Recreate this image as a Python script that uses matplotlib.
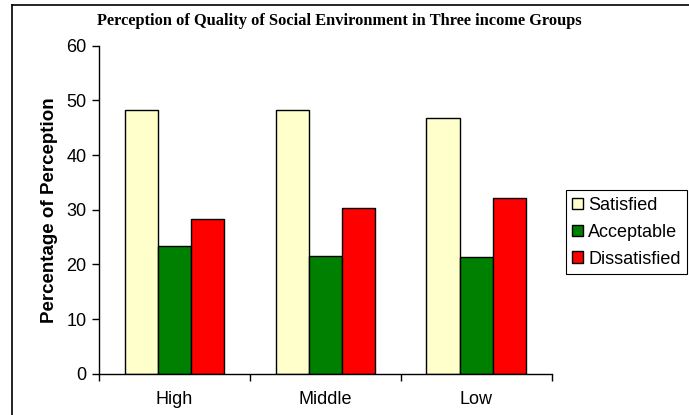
import numpy as np
import matplotlib.pyplot as plt
from matplotlib.lines import Line2D

# data
groups = ["High", "Middle", "Low"]
series = ["Satisfied", "Acceptable", "Dissatisfied"]
satisfied = [48.3, 48.3, 46.7]
acceptable = [23.4, 21.6, 21.3]
dissatisfied = [28.4, 30.3, 32.2]
colors = ["#FFFFCC", "#008000", "#FF0000"]

plt.rcParams["font.family"] = ["Liberation Sans", "DejaVu Sans"]

fig = plt.figure(figsize=(6.89, 4.15), dpi=100)
ax = fig.add_axes([0.1437, 0.099, 0.657, 0.791])

x = np.arange(len(groups))
w = 0.22
for i, (name, vals) in enumerate(zip(series, [satisfied, acceptable, dissatisfied])):
    ax.bar(x + (i - 1) * w, vals, width=w, color=colors[i], edgecolor="black",
           linewidth=1.0, label=name)

ax.set_xlim(-0.5, 2.5)
ax.set_ylim(0, 60)
ax.set_yticks(range(0, 61, 10))
ax.set_xticks(x)
ax.set_xticklabels(groups, fontsize=13)
ax.set_xticks(np.arange(-0.5, 2.6, 1), minor=True)
ax.tick_params(axis="x", which="major", length=0, pad=12)
ax.tick_params(axis="x", which="minor", length=5, width=1, direction="out")
ax.tick_params(axis="y", length=5, width=1, labelsize=13, pad=4)
for s in ["top", "right"]:
    ax.spines[s].set_visible(False)
for s in ["left", "bottom"]:
    ax.spines[s].set_linewidth(1.0)

ax.set_ylabel("Percentage of Perception", fontsize=13.5, fontweight="bold", labelpad=6)

fig.text(0.493, 0.95, "Perception of Quality of Social Environment in Three income Groups",
         ha="center", va="center", fontsize=11.8, fontweight="bold",
         family=["Liberation Serif", "DejaVu Serif"])

leg = ax.legend(loc="upper left", bbox_to_anchor=(1.031, 0.559), fontsize=13,
                frameon=True, fancybox=False, edgecolor="black", framealpha=1,
                handlelength=0.6, handleheight=0.6, handletextpad=0.3,
                borderpad=0.35, labelspacing=0.55, borderaxespad=0)
leg.get_frame().set_linewidth(0.8)

# chart border: only top and left edges show in the reference
fig.add_artist(Line2D([12 / 689, 12 / 689], [0, 1 - 5 / 415], transform=fig.transFigure,
                      color="black", linewidth=1.2))
fig.add_artist(Line2D([12 / 689, 1], [1 - 5 / 415, 1 - 5 / 415], transform=fig.transFigure,
                      color="black", linewidth=1.2))

fig.savefig("out.png", dpi=100)
